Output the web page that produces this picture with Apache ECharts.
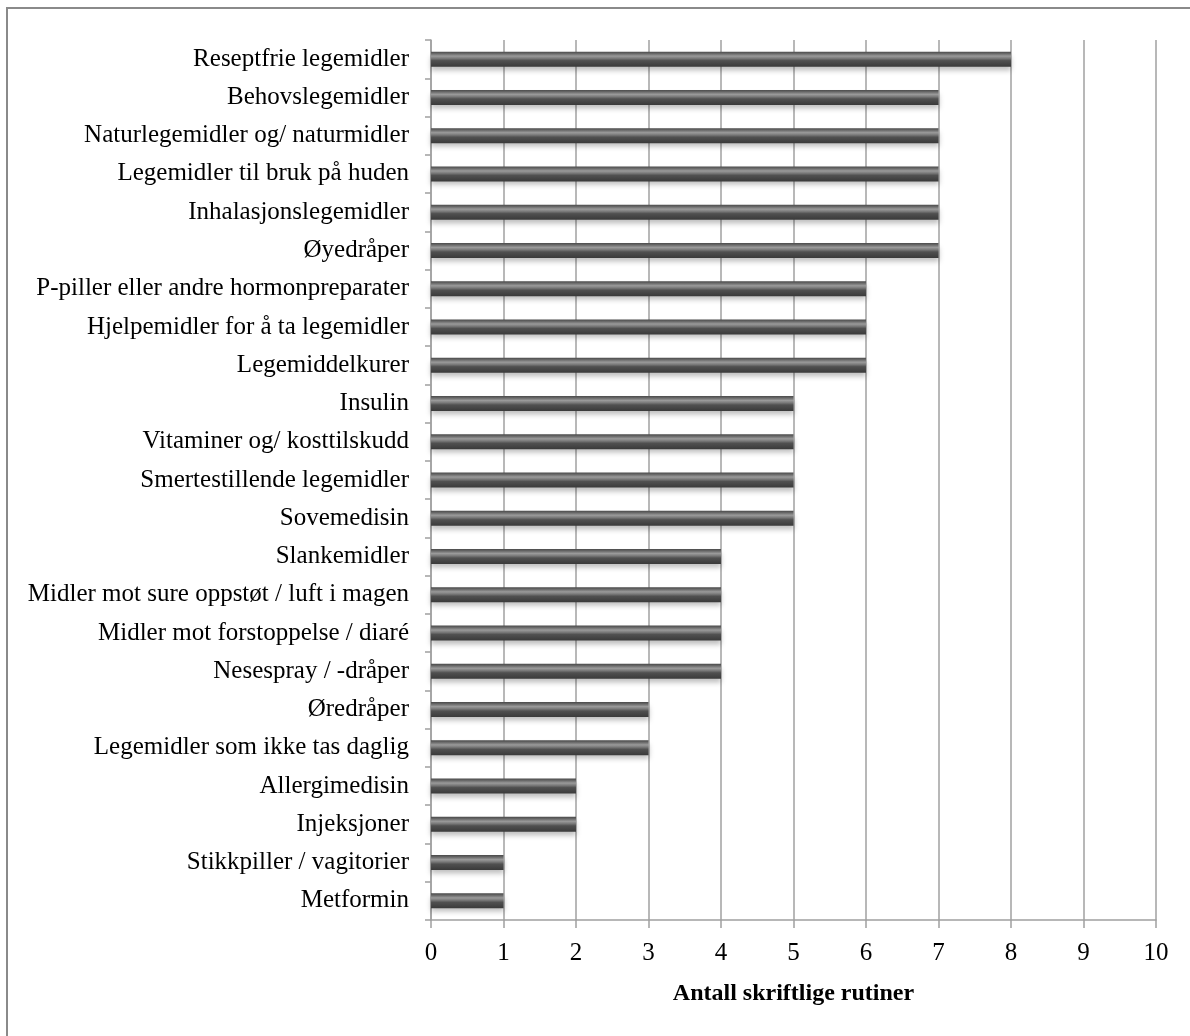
<!DOCTYPE html>
<html>
<head>
<meta charset="utf-8">
<script src="https://cdn.jsdelivr.net/npm/echarts@6/dist/echarts.min.js"></script>
<style>
html, body { margin: 0; padding: 0; background: #fff; }
#chart { width: 1190px; height: 1036px; }
</style>
</head>
<body>
<div id="chart"></div>
<script>
var categories = [
	'Reseptfrie legemidler',
	'Behovslegemidler',
	'Naturlegemidler og/ naturmidler',
	'Legemidler til bruk på huden',
	'Inhalasjonslegemidler',
	'Øyedråper',
	'P-piller eller andre hormonpreparater',
	'Hjelpemidler for å ta legemidler',
	'Legemiddelkurer',
	'Insulin',
	'Vitaminer og/ kosttilskudd',
	'Smertestillende legemidler',
	'Sovemedisin',
	'Slankemidler',
	'Midler mot sure oppstøt / luft i magen',
	'Midler mot forstoppelse / diaré',
	'Nesespray / -dråper',
	'Øredråper',
	'Legemidler som ikke tas daglig',
	'Allergimedisin',
	'Injeksjoner',
	'Stikkpiller / vagitorier',
	'Metformin'
];
var values = [8, 7, 7, 7, 7, 7, 6, 6, 6, 5, 5, 5, 5, 4, 4, 4, 4, 3, 3, 2, 2, 1, 1];
var axisName = 'Antall skriftlige rutiner';

var font = 'Liberation Serif';

var chart = echarts.init(document.getElementById('chart'));

// sylinder-effekt på stolpene
var barFill = new echarts.graphic.LinearGradient(0, 0, 0, 1, [
	{ offset: 0, color: '#4a4a4a' },
	{ offset: 0.12, color: '#666666' },
	{ offset: 0.3, color: '#9a9a9a' },
	{ offset: 0.45, color: '#7a7a7a' },
	{ offset: 0.6, color: '#505050' },
	{ offset: 1, color: '#3a3a3a' }
]);

chart.setOption({
	animation: false,
	graphic: [{
		type: 'rect',
		shape: { x: 7, y: 8, width: 1300, height: 1200 },
		style: { fill: 'none', stroke: '#8a8a8a', lineWidth: 2 },
		silent: true
	}],
	grid: { left: 431, right: 34, top: 40, bottom: 116, containLabel: false },
	xAxis: {
		type: 'value',
		min: 0,
		max: 10,
		interval: 1,
		name: axisName,
		nameLocation: 'middle',
		nameGap: 62,
		nameTextStyle: { fontFamily: font, fontSize: 24, fontWeight: 'bold', color: '#000' },
		axisLine: { show: true, lineStyle: { color: '#a0a0a0', width: 1.5 } },
		axisTick: { show: true, length: 8, lineStyle: { color: '#a0a0a0', width: 1.5 } },
		axisLabel: { fontFamily: font, fontSize: 25, color: '#000', margin: 21 },
		splitLine: { show: true, lineStyle: { color: '#a0a0a0', width: 1.5 } }
	},
	yAxis: {
		type: 'category',
		data: categories,
		inverse: true,
		axisLine: { show: true, lineStyle: { color: '#a0a0a0', width: 1.5 } },
		axisTick: { show: true, length: 6, lineStyle: { color: '#a0a0a0', width: 1.5 } },
		axisLabel: { fontFamily: font, fontSize: 25, color: '#000', margin: 22 }
	},
	series: [{
		type: 'bar',
		data: values,
		barWidth: 15,
		itemStyle: {
			color: barFill,
			shadowColor: 'rgba(0,0,0,0.25)',
			shadowBlur: 5,
			shadowOffsetY: 4
		}
	}]
});
</script>
</body>
</html>
